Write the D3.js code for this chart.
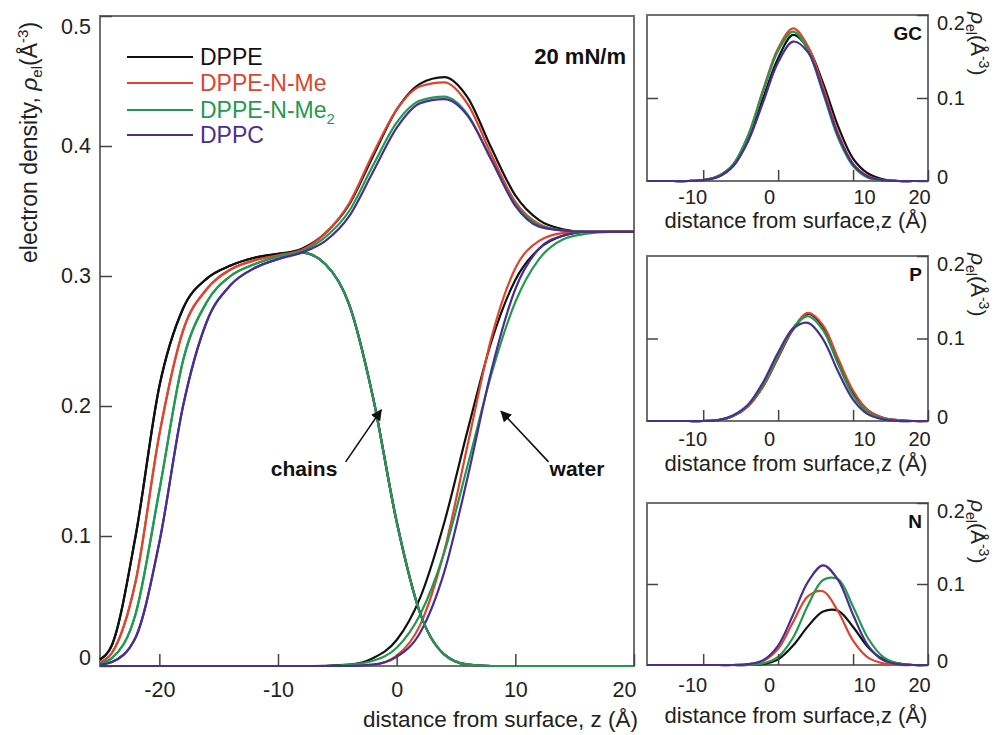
<!DOCTYPE html>
<html>
<head>
<meta charset="utf-8">
<script src="https://cdn.jsdelivr.net/npm/d3@7"></script>
<style>
  body { margin: 0; background: #fff; }
  svg { display: block; font-family: "Liberation Sans", Arial, Helvetica, sans-serif; }
</style>
</head>
<body>
<svg id="chart" width="1006" height="735"></svg>
<script>
// ---- data ----
var species = ["DPPE", "DPPE-N-Me", "DPPE-N-Me2", "DPPC"];
var colors = ["#111111", "#e0442c", "#1f9a4f", "#4a2f93"];

// main panel: z grid (Å)
var zMain = [-25, -24, -22, -20, -18, -16, -14, -12, -10, -8, -6, -4, -2, 0, 2, 4, 6, 8, 10, 12, 14, 16, 18, 20];

// total electron density
var totalDPPE   = [0.005, 0.016, 0.100, 0.215, 0.275, 0.298, 0.308, 0.314, 0.317, 0.321, 0.333, 0.355, 0.392, 0.428, 0.448, 0.453, 0.437, 0.398, 0.362, 0.343, 0.336, 0.334, 0.334, 0.334];
var totalNMe    = [0.003, 0.010, 0.065, 0.178, 0.258, 0.290, 0.305, 0.312, 0.316, 0.320, 0.333, 0.356, 0.394, 0.428, 0.446, 0.449, 0.432, 0.393, 0.357, 0.340, 0.335, 0.334, 0.334, 0.334];
var totalNMe2   = [0.002, 0.006, 0.040, 0.135, 0.235, 0.280, 0.300, 0.309, 0.315, 0.319, 0.330, 0.350, 0.385, 0.418, 0.435, 0.438, 0.424, 0.389, 0.355, 0.339, 0.335, 0.334, 0.334, 0.334];
var totalDPPC   = [0.001, 0.003, 0.022, 0.095, 0.200, 0.265, 0.293, 0.306, 0.313, 0.318, 0.327, 0.346, 0.380, 0.414, 0.433, 0.436, 0.423, 0.389, 0.354, 0.338, 0.335, 0.334, 0.334, 0.334];

// chains
var chainsDPPE  = [0.005, 0.016, 0.100, 0.215, 0.275, 0.298, 0.308, 0.314, 0.317, 0.318, 0.309, 0.278, 0.207, 0.111, 0.040, 0.009, 0.001, 0, 0, 0, 0, 0, 0, 0];
var chainsNMe   = [0.003, 0.010, 0.065, 0.178, 0.258, 0.290, 0.305, 0.312, 0.316, 0.318, 0.309, 0.278, 0.207, 0.111, 0.040, 0.009, 0.001, 0, 0, 0, 0, 0, 0, 0];
var chainsNMe2  = [0.002, 0.006, 0.040, 0.135, 0.235, 0.280, 0.300, 0.309, 0.315, 0.318, 0.309, 0.278, 0.207, 0.111, 0.040, 0.009, 0.001, 0, 0, 0, 0, 0, 0, 0];
var chainsDPPC  = [0.001, 0.003, 0.022, 0.095, 0.200, 0.265, 0.293, 0.306, 0.313, 0.318, 0.309, 0.278, 0.207, 0.111, 0.040, 0.009, 0.001, 0, 0, 0, 0, 0, 0, 0];

// water
var waterDPPE   = [0, 0, 0, 0, 0, 0, 0, 0, 0, 0, 0.0002, 0.001, 0.006, 0.020, 0.053, 0.110, 0.182, 0.250, 0.297, 0.321, 0.331, 0.334, 0.334, 0.334];
var waterNMe    = [0, 0, 0, 0, 0, 0, 0, 0, 0, 0, 0, 0.0002, 0.001, 0.008, 0.032, 0.088, 0.171, 0.253, 0.306, 0.327, 0.333, 0.334, 0.334, 0.334];
var waterNMe2   = [0, 0, 0, 0, 0, 0, 0, 0, 0, 0, 0, 0.001, 0.004, 0.014, 0.040, 0.087, 0.155, 0.225, 0.280, 0.313, 0.328, 0.3325, 0.334, 0.334];
var waterDPPC   = [0, 0, 0, 0, 0, 0, 0, 0, 0, 0, 0, 0, 0.001, 0.007, 0.026, 0.072, 0.146, 0.228, 0.290, 0.321, 0.331, 0.334, 0.334, 0.334];

// insets: z grid (Å)
var zInset = [-17.5, -16, -14, -12, -10, -8, -6, -4, -2, 0, 2, 4, 6, 8, 10, 12, 14, 16, 18, 20];

var gcDPPE   = [0, 0, 0, 0, 0.001, 0.005, 0.018, 0.050, 0.100, 0.148, 0.176, 0.160, 0.118, 0.066, 0.027, 0.009, 0.002, 0, 0, 0];
var gcNMe    = [0, 0, 0, 0, 0.001, 0.006, 0.020, 0.055, 0.110, 0.160, 0.184, 0.162, 0.113, 0.058, 0.021, 0.006, 0.001, 0, 0, 0];
var gcNMe2   = [0, 0, 0, 0, 0.001, 0.006, 0.020, 0.055, 0.108, 0.157, 0.180, 0.157, 0.106, 0.052, 0.018, 0.004, 0.001, 0, 0, 0];
var gcDPPC   = [0, 0, 0, 0, 0.001, 0.005, 0.018, 0.048, 0.095, 0.143, 0.168, 0.155, 0.108, 0.055, 0.020, 0.005, 0.001, 0, 0, 0];

var pDPPE    = [0, 0, 0, 0, 0, 0.001, 0.006, 0.018, 0.042, 0.077, 0.111, 0.130, 0.114, 0.073, 0.034, 0.013, 0.004, 0.001, 0, 0];
var pNMe     = [0, 0, 0, 0, 0, 0.001, 0.006, 0.018, 0.042, 0.078, 0.112, 0.131, 0.116, 0.076, 0.037, 0.013, 0.004, 0.001, 0, 0];
var pNMe2    = [0, 0, 0, 0, 0, 0.001, 0.006, 0.019, 0.044, 0.080, 0.113, 0.127, 0.110, 0.069, 0.031, 0.010, 0.003, 0, 0, 0];
var pDPPC    = [0, 0, 0, 0, 0, 0.001, 0.007, 0.020, 0.047, 0.083, 0.112, 0.119, 0.099, 0.060, 0.026, 0.008, 0.002, 0, 0, 0];

var nDPPE    = [0, 0, 0, 0, 0, 0, 0, 0, 0.001, 0.007, 0.024, 0.048, 0.066, 0.067, 0.047, 0.022, 0.007, 0.002, 0, 0];
var nNMe     = [0, 0, 0, 0, 0, 0, 0, 0.001, 0.005, 0.020, 0.053, 0.085, 0.091, 0.066, 0.030, 0.009, 0.002, 0, 0, 0];
var nNMe2    = [0, 0, 0, 0, 0, 0, 0, 0, 0.002, 0.010, 0.034, 0.074, 0.105, 0.106, 0.072, 0.033, 0.010, 0.002, 0, 0];
var nDPPC    = [0, 0, 0, 0, 0, 0, 0, 0.001, 0.006, 0.024, 0.062, 0.103, 0.123, 0.105, 0.062, 0.024, 0.006, 0.001, 0, 0];

var mainXTicks = [-20, -10, 0, 10, 20];
var mainYTicks = [0, 0.1, 0.2, 0.3, 0.4, 0.5];
var insetXTicks = [-10, 0, 10, 20];
var insetYTicks = [0, 0.1, 0.2];
var insetNames = ["GC", "P", "N"];
var pressureLabel = "20 mN/m";

// ---- layout ----
var svg = d3.select("#chart");
var frameColor = "#707070";
var fmt = function (d) { return d === 0 ? "0" : (Number.isInteger(d) ? String(d) : d.toFixed(1)); };

var main = { left: 100, right: 634, top: 16, bottom: 666 };
var x = d3.scaleLinear().domain([-25, 20]).range([main.left, main.right]);
var y = d3.scaleLinear().domain([0, 0.5]).range([main.bottom, main.top]);

var lineMain = d3.line()
    .x(function (d) { return x(d[0]); })
    .y(function (d) { return y(d[1]); })
    .curve(d3.curveMonotoneX);

function pairs(zs, vs) { return zs.map(function (z, i) { return [z, vs[i]]; }); }

var totals = [totalDPPE, totalNMe, totalNMe2, totalDPPC];
var chains = [chainsDPPE, chainsNMe, chainsNMe2, chainsDPPC];
var waters = [waterDPPE, waterNMe, waterNMe2, waterDPPC];

// frame
svg.append("rect")
    .attr("x", main.left).attr("y", main.top)
    .attr("width", main.right - main.left).attr("height", main.bottom - main.top)
    .attr("fill", "none").attr("stroke", frameColor).attr("stroke-width", 2);

// curves
var gMain = svg.append("g");
[0, 1, 2, 3].forEach(function (i) {
    gMain.append("path").attr("d", lineMain(pairs(zMain, waters[i])))
        .attr("fill", "none").attr("stroke", colors[i]).attr("stroke-width", 2.2);
});
[0, 1, 3, 2].forEach(function (i) {
    gMain.append("path").attr("d", lineMain(pairs(zMain, chains[i])))
        .attr("fill", "none").attr("stroke", colors[i]).attr("stroke-width", 2.2);
});
[0, 1, 2, 3].forEach(function (i) {
    gMain.append("path").attr("d", lineMain(pairs(zMain, totals[i])))
        .attr("fill", "none").attr("stroke", colors[i]).attr("stroke-width", 2.2);
});

// axes
var xAxis = svg.append("g")
    .attr("transform", "translate(0," + main.bottom + ")")
    .call(d3.axisBottom(x).tickValues(mainXTicks).tickSize(-12).tickPadding(16).tickFormat(fmt));
var yAxis = svg.append("g")
    .attr("transform", "translate(" + main.left + ",0)")
    .call(d3.axisLeft(y).tickValues(mainYTicks).tickSize(-12).tickPadding(9).tickFormat(fmt));
[xAxis, yAxis].forEach(function (g) {
    g.select(".domain").remove();
    g.selectAll(".tick line").attr("stroke", "#444").attr("stroke-width", 1.5);
    g.selectAll(".tick text").attr("fill", "#222").attr("font-size", 21.5);
});
xAxis.selectAll(".tick text").filter(function (d) { return d === 20; }).attr("dx", -10);
yAxis.selectAll(".tick text").filter(function (d) { return d === 0.5; }).attr("dy", "0.8em");
yAxis.selectAll(".tick text").filter(function (d) { return d === 0; }).attr("dy", "-0.05em");

svg.append("text")
    .attr("x", main.right + 4).attr("y", 727)
    .attr("text-anchor", "end").attr("font-size", 22.5).attr("fill", "#222")
    .text("distance from surface, z (Å)");

var yl = svg.append("text")
    .attr("transform", "translate(37,263) rotate(-90)")
    .attr("font-size", 23).attr("fill", "#222");
yl.append("tspan").text("electron density, ");
yl.append("tspan").attr("font-style", "italic").text("ρ");
yl.append("tspan").attr("font-size", 15).attr("dy", 5).text("el");
yl.append("tspan").attr("dy", -5).text("(Å");
yl.append("tspan").attr("font-size", 15).attr("dy", -9).text("-3");
yl.append("tspan").attr("dy", 9).text(")");

// legend
var legend = svg.append("g");
var legendY = [57, 83, 110, 135];
species.forEach(function (s, i) {
    legend.append("line")
        .attr("x1", 127).attr("x2", 193).attr("y1", legendY[i]).attr("y2", legendY[i])
        .attr("stroke", colors[i]).attr("stroke-width", 2.2);
    var t = legend.append("text")
        .attr("x", 200).attr("y", legendY[i] + 8)
        .attr("font-size", 23).attr("fill", colors[i]);
    if (s === "DPPE-N-Me2") {
        t.append("tspan").text("DPPE-N-Me");
        t.append("tspan").attr("font-size", 15).attr("dy", 6).text("2");
    } else {
        t.text(s);
    }
});

svg.append("text")
    .attr("x", main.right - 8).attr("y", 64)
    .attr("text-anchor", "end").attr("font-size", 22).attr("font-weight", "bold").attr("fill", "#111")
    .text(pressureLabel);

// annotations
svg.append("defs").append("marker")
    .attr("id", "arrow").attr("viewBox", "0 0 10 10")
    .attr("refX", 9).attr("refY", 5)
    .attr("markerWidth", 7).attr("markerHeight", 7)
    .attr("orient", "auto-start-reverse")
    .append("path").attr("d", "M0,0 L10,5 L0,10 z").attr("fill", "#111");

function arrow(z0, r0, z1, r1) {
    svg.append("line")
        .attr("x1", x(z0)).attr("y1", y(r0)).attr("x2", x(z1)).attr("y2", y(r1))
        .attr("stroke", "#111").attr("stroke-width", 1.6)
        .attr("marker-end", "url(#arrow)");
}
arrow(-4.3, 0.157, -1.3, 0.197);
arrow(12.8, 0.157, 8.8, 0.196);

svg.append("text").attr("x", x(-7.8)).attr("y", y(0.146))
    .attr("text-anchor", "middle").attr("font-size", 21).attr("font-weight", "bold").attr("fill", "#111")
    .text("chains");
svg.append("text").attr("x", x(15.2)).attr("y", y(0.146))
    .attr("text-anchor", "middle").attr("font-size", 21).attr("font-weight", "bold").attr("fill", "#111")
    .text("water");

// ---- insets ----
var insetData = [
    [gcDPPE, gcNMe, gcNMe2, gcDPPC],
    [pDPPE, pNMe, pNMe2, pDPPC],
    [nDPPE, nNMe, nNMe2, nDPPC]
];
var insetBoxes = [
    { top: 15, bottom: 181, pad: 9, title: 228 },
    { top: 256, bottom: 421, pad: 11, title: 471 },
    { top: 503, bottom: 665, pad: 13, title: 723 }
];
var insetLeft = 647, insetRight = 928;
var insetLabelDx = [-11, -9, 11, -9];

insetNames.forEach(function (name, k) {
    var box = insetBoxes[k];
    var xi = d3.scaleLinear().domain([-17.5, 20]).range([insetLeft, insetRight]);
    var yi = d3.scaleLinear().domain([0, 0.2]).range([box.bottom, box.top]);
    var g = svg.append("g");

    g.append("rect")
        .attr("x", insetLeft).attr("y", box.top)
        .attr("width", insetRight - insetLeft).attr("height", box.bottom - box.top)
        .attr("fill", "none").attr("stroke", frameColor).attr("stroke-width", 2);

    var li = d3.line()
        .x(function (d) { return xi(d[0]); })
        .y(function (d) { return Math.min(yi(d[1]), box.bottom); })
        .curve(d3.curveCatmullRom.alpha(0.5));
    insetData[k].forEach(function (vals, i) {
        g.append("path").attr("d", li(pairs(zInset, vals)))
            .attr("fill", "none").attr("stroke", colors[i]).attr("stroke-width", 2.2);
    });

    var ax = g.append("g").attr("transform", "translate(0," + box.bottom + ")")
        .call(d3.axisBottom(xi).tickValues(insetXTicks).tickSize(-11).tickPadding(box.pad).tickFormat(fmt));
    var ayR = g.append("g").attr("transform", "translate(" + insetRight + ",0)")
        .call(d3.axisRight(yi).tickValues(insetYTicks).tickSize(-11).tickPadding(9).tickFormat(fmt));
    var ayL = g.append("g").attr("transform", "translate(" + insetLeft + ",0)")
        .call(d3.axisLeft(yi).tickValues([0.1]).tickSize(-11).tickFormat(""));
    [ax, ayR, ayL].forEach(function (a) {
        a.select(".domain").remove();
        a.selectAll(".tick line").attr("stroke", "#444").attr("stroke-width", 1.5);
        a.selectAll(".tick text").attr("fill", "#222").attr("font-size", 20);
    });
    ax.selectAll(".tick text").attr("dx", function (d, i) { return insetLabelDx[i]; });
    ayR.selectAll(".tick text").filter(function (d) { return d === 0.2; }).attr("dy", "0.7em");
    ayR.selectAll(".tick text").filter(function (d) { return d === 0; }).attr("dy", "0.1em");

    g.append("text")
        .attr("x", 796).attr("y", box.title)
        .attr("text-anchor", "middle").attr("font-size", 22).attr("fill", "#222")
        .text("distance from surface,z (Å)");

    g.append("text")
        .attr("x", insetRight - 6).attr("y", box.top + 25)
        .attr("text-anchor", "end").attr("font-size", 19).attr("font-weight", "bold").attr("fill", "#111")
        .text(name);

    var rl = g.append("text")
        .attr("transform", "translate(971," + (box.top - 3) + ") rotate(90)")
        .attr("font-size", 21).attr("fill", "#222");
    rl.append("tspan").attr("font-style", "italic").text("ρ");
    rl.append("tspan").attr("font-size", 14).attr("dy", 5).text("el");
    rl.append("tspan").attr("dy", -5).text("(Å");
    rl.append("tspan").attr("font-size", 14).attr("dy", -8).text("-3");
    rl.append("tspan").attr("dy", 8).text(")");
});
</script>
</body>
</html>
